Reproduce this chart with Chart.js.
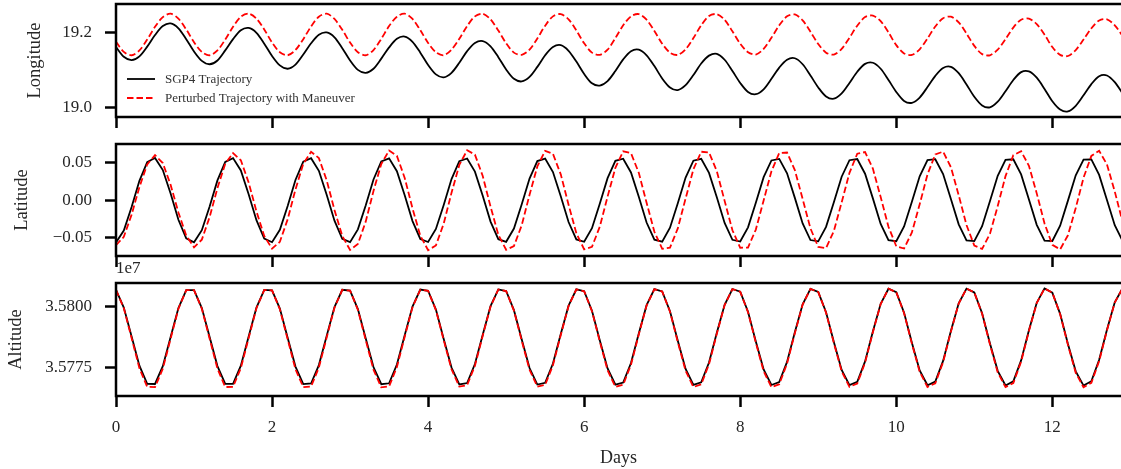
<!DOCTYPE html>
<html><head><meta charset="utf-8">
<script src="https://cdn.jsdelivr.net/npm/chart.js@4.4.0/dist/chart.umd.min.js"></script>
<style>
html,body{margin:0;padding:0;background:#fff;width:1121px;height:469px;overflow:hidden;}
canvas{position:absolute;left:0;}
</style></head><body>
<canvas id="c1" style="top:0px"></canvas>
<canvas id="c2" style="top:130px"></canvas>
<canvas id="c3" style="top:258px"></canvas>
<script>
// ---- data ----
const days = [0,0.1,0.2,0.3,0.4,0.5,0.6,0.7,0.8,0.9,1,1.1,1.2,1.3,1.4,1.5,1.6,1.7,1.8,1.9,2,2.1,2.2,2.3,2.4,2.5,2.6,2.7,2.8,2.9,3,3.1,3.2,3.3,3.4,3.5,3.6,3.7,3.8,3.9,4,4.1,4.2,4.3,4.4,4.5,4.6,4.7,4.8,4.9,5,5.1,5.2,5.3,5.4,5.5,5.6,5.7,5.8,5.9,6,6.1,6.2,6.3,6.4,6.5,6.6,6.7,6.8,6.9,7,7.1,7.2,7.3,7.4,7.5,7.6,7.7,7.8,7.9,8,8.1,8.2,8.3,8.4,8.5,8.6,8.7,8.8,8.9,9,9.1,9.2,9.3,9.4,9.5,9.6,9.7,9.8,9.9,10,10.1,10.2,10.3,10.4,10.5,10.6,10.7,10.8,10.9,11,11.1,11.2,11.3,11.4,11.5,11.6,11.7,11.8,11.9,12,12.1,12.2,12.3,12.4,12.5,12.6,12.7,12.8,12.9];

const lonSGP4 = [19.162,19.136,19.127,19.137,19.163,19.194,19.218,19.225,19.212,19.183,
19.150,19.125,19.116,19.126,19.153,19.183,19.207,19.213,19.200,19.171,
19.138,19.113,19.104,19.115,19.142,19.172,19.195,19.201,19.188,19.159,
19.126,19.101,19.093,19.104,19.131,19.161,19.184,19.190,19.176,19.147,
19.114,19.089,19.081,19.093,19.120,19.151,19.173,19.178,19.164,19.135,
19.102,19.077,19.070,19.082,19.109,19.140,19.162,19.167,19.152,19.123,
19.090,19.065,19.059,19.071,19.098,19.129,19.151,19.155,19.140,19.111,
19.078,19.054,19.047,19.060,19.087,19.118,19.139,19.144,19.128,19.098,
19.066,19.042,19.036,19.049,19.077,19.107,19.128,19.132,19.116,19.086,
19.054,19.030,19.024,19.038,19.066,19.096,19.117,19.120,19.104,19.074,
19.042,19.018,19.013,19.027,19.055,19.085,19.106,19.109,19.092,19.062,
19.029,19.006,19.001,19.016,19.044,19.074,19.095,19.097,19.080,19.050,
19.017,18.995,18.990,19.005,19.033,19.063,19.084,19.086,19.068,19.038];

const lonPerturbed = [19.176,19.149,19.140,19.153,19.182,19.216,19.242,19.251,19.238,19.209,
19.175,19.149,19.140,19.153,19.182,19.216,19.243,19.251,19.238,19.209,
19.174,19.148,19.140,19.154,19.183,19.217,19.243,19.251,19.237,19.208,
19.174,19.148,19.140,19.154,19.184,19.218,19.243,19.251,19.237,19.207,
19.173,19.148,19.140,19.155,19.184,19.218,19.244,19.251,19.236,19.206,
19.172,19.147,19.141,19.155,19.185,19.219,19.244,19.250,19.236,19.206,
19.172,19.147,19.141,19.155,19.186,19.220,19.244,19.250,19.235,19.205,
19.171,19.147,19.141,19.156,19.186,19.220,19.245,19.250,19.235,19.204,
19.171,19.148,19.142,19.157,19.187,19.220,19.244,19.249,19.233,19.203,
19.170,19.147,19.142,19.157,19.187,19.219,19.242,19.246,19.231,19.201,
19.167,19.145,19.141,19.156,19.185,19.217,19.239,19.243,19.228,19.198,
19.165,19.143,19.140,19.155,19.183,19.214,19.235,19.238,19.223,19.195,
19.162,19.141,19.138,19.154,19.182,19.212,19.233,19.236,19.220,19.192];

const latSGP4 = [-0.0564,-0.0405,-0.0091,0.0258,0.0508,0.0563,0.0402,0.0088,-0.0261,-0.0509,
-0.0562,-0.0400,-0.0084,0.0264,0.0510,0.0561,0.0397,0.0080,-0.0267,-0.0512,
-0.0560,-0.0394,-0.0077,0.0270,0.0513,0.0560,0.0392,0.0073,-0.0273,-0.0515,
-0.0559,-0.0389,-0.0070,0.0276,0.0516,0.0558,0.0386,0.0066,-0.0279,-0.0517,
-0.0557,-0.0383,-0.0063,0.0282,0.0519,0.0556,0.0381,0.0059,-0.0285,-0.0520,
-0.0555,-0.0378,-0.0055,0.0288,0.0521,0.0555,0.0375,0.0052,-0.0291,-0.0523,
-0.0554,-0.0373,-0.0048,0.0294,0.0524,0.0553,0.0370,0.0045,-0.0298,-0.0526,
-0.0552,-0.0367,-0.0041,0.0301,0.0527,0.0551,0.0364,0.0038,-0.0304,-0.0528,
-0.0551,-0.0362,-0.0034,0.0307,0.0530,0.0550,0.0359,0.0031,-0.0310,-0.0531,
-0.0549,-0.0356,-0.0027,0.0313,0.0533,0.0548,0.0353,0.0024,-0.0316,-0.0534,
-0.0547,-0.0351,-0.0020,0.0319,0.0535,0.0546,0.0348,0.0016,-0.0322,-0.0537,
-0.0546,-0.0346,-0.0013,0.0325,0.0538,0.0545,0.0343,0.0009,-0.0328,-0.0539,
-0.0544,-0.0340,-0.0006,0.0331,0.0541,0.0543,0.0337,0.0002,-0.0334,-0.0542];

const latPerturbed = [-0.0600,-0.0489,-0.0193,0.0175,0.0478,0.0600,0.0495,0.0204,-0.0164,-0.0471,
-0.0628,-0.0526,-0.0225,0.0161,0.0486,0.0627,0.0532,0.0236,-0.0149,-0.0478,
-0.0646,-0.0555,-0.0255,0.0142,0.0485,0.0645,0.0561,0.0266,-0.0130,-0.0477,
-0.0664,-0.0585,-0.0286,0.0122,0.0483,0.0662,0.0591,0.0297,-0.0109,-0.0474,
-0.0667,-0.0603,-0.0311,0.0098,0.0470,0.0665,0.0608,0.0322,-0.0085,-0.0461,
-0.0661,-0.0612,-0.0333,0.0072,0.0450,0.0658,0.0618,0.0344,-0.0060,-0.0441,
-0.0655,-0.0622,-0.0354,0.0047,0.0431,0.0652,0.0627,0.0365,-0.0034,-0.0421,
-0.0649,-0.0632,-0.0376,0.0022,0.0411,0.0646,0.0636,0.0387,-0.0009,-0.0401,
-0.0634,-0.0632,-0.0392,-0.0004,0.0386,0.0630,0.0636,0.0402,0.0016,-0.0376,
-0.0624,-0.0638,-0.0411,-0.0029,0.0364,0.0620,0.0641,0.0421,0.0041,-0.0354,
-0.0615,-0.0644,-0.0430,-0.0054,0.0343,0.0610,0.0647,0.0440,0.0066,-0.0332,
-0.0605,-0.0650,-0.0449,-0.0079,0.0321,0.0600,0.0652,0.0458,0.0091,-0.0310,
-0.0596,-0.0656,-0.0468,-0.0104,0.0300,0.0590,0.0658,0.0477,0.0116,-0.0289];

const altSGP4 = [35806830,35799560,35787650,35775650,35768190,35768110,35775450,35787390,35799350,35806750,
35806740,35799350,35787390,35775460,35768130,35768200,35775660,35787640,35799540,35806810,
35806640,35799130,35787140,35775260,35768060,35768300,35775880,35787900,35799740,35806870,
35806550,35798910,35786880,35775070,35768000,35768390,35776090,35788150,35799930,35806930,
35806450,35798700,35786630,35774870,35767940,35768490,35776310,35788400,35800130,35807000,
35806360,35798480,35786370,35774670,35767880,35768590,35776530,35788660,35800320,35807060,
35806270,35798270,35786120,35774480,35767820,35768680,35776740,35788910,35800520,35807120,
35806170,35798050,35785870,35774280,35767750,35768780,35776960,35789170,35800710,35807180,
35806080,35797840,35785610,35774090,35767690,35768870,35777180,35789420,35800910,35807240,
35805990,35797620,35785360,35773890,35767630,35768970,35777390,35789670,35801100,35807300,
35805890,35797400,35785100,35773700,35767570,35769060,35777610,35789930,35801300,35807360,
35805800,35797190,35784850,35773500,35767510,35769160,35777820,35790180,35801490,35807420,
35805700,35796970,35784590,35773300,35767440,35769250,35778040,35790440,35801690,35807480];

const altPerturbed = [35806800,35799300,35787010,35774620,35766920,35766840,35774420,35786740,35799080,35806720,
35806710,35799080,35786740,35774430,35766860,35766930,35774630,35787000,35799280,35806780,
35806610,35798850,35786480,35774220,35766790,35767040,35774860,35787260,35799480,35806840,
35806510,35798630,35786210,35774020,35766730,35767130,35775080,35787520,35799680,35806900,
35806420,35798500,35786160,35774140,35767060,35767620,35775610,35787970,35799960,35806980,
35806330,35798280,35785900,35773940,35767000,35767720,35775840,35788240,35800160,35807050,
35806240,35798060,35785640,35773740,35766940,35767810,35776050,35788490,35800360,35807110,
35806140,35797840,35785390,35773540,35766860,35767920,35776280,35788760,35800550,35807170,
35806040,35797620,35785120,35773340,35766800,35768010,35776500,35789010,35800760,35807230,
35805960,35797450,35784970,35773310,35766940,35768300,35776870,35789360,35800990,35807290,
35805860,35797220,35784710,35773110,35766880,35768390,35777090,35789620,35801190,35807350,
35805770,35797010,35784460,35772910,35766820,35768500,35777300,35789880,35801380,35807410,
35805670,35796780,35784190,35772710,35766750,35768590,35777530,35790140,35801590,35807480];

const seriesNames = ['SGP4 Trajectory', 'Perturbed Trajectory with Maneuver'];
const xTickValues = [0, 2, 4, 6, 8, 10, 12];
const xTickLabels = ['0', '2', '4', '6', '8', '10', '12'];
const lonTickValues = [19.0, 19.2];
const lonTickLabels = ['19.0', '19.2'];
const latTickValues = [-0.05, 0, 0.05];
const latTickLabels = ['\u22120.05', '0.00', '0.05'];
const altTickValues = [35775000, 35800000];
const altTickLabels = ['3.5775', '3.5800'];
const altOffsetText = '1e7';

// ---- rendering ----
const FONT = "'Liberation Serif', 'Times New Roman', serif";
const TEXT = '#262626';
Chart.defaults.font.family = FONT;
Chart.defaults.color = TEXT;

const W = 1121;
const framePlugin = {
  id: 'frame',
  afterDatasetsDraw(chart) {
    const {ctx, chartArea: a} = chart;
    ctx.save();
    ctx.strokeStyle = '#000';
    ctx.lineWidth = 2.5;
    ctx.lineCap = 'butt';
    ctx.beginPath();
    ctx.moveTo(a.right + 2, a.top);
    ctx.lineTo(a.left, a.top);
    ctx.lineTo(a.left, a.bottom);
    ctx.lineTo(a.right + 2, a.bottom);
    ctx.stroke();
    ctx.restore();
  }
};

const legendPlugin = {
  id: 'innerLegend',
  afterDraw(chart) {
    const ctx = chart.ctx;
    const rows = [79, 98];
    ctx.save();
    chart.data.datasets.forEach((ds, i) => {
      const y = rows[i];
      ctx.beginPath();
      ctx.strokeStyle = ds.borderColor;
      ctx.lineWidth = ds.borderWidth;
      ctx.setLineDash(ds.borderDash || []);
      ctx.moveTo(127, y);
      ctx.lineTo(155, y);
      ctx.stroke();
      ctx.setLineDash([]);
      ctx.fillStyle = '#333';
      ctx.font = '13px ' + FONT;
      ctx.textBaseline = 'middle';
      ctx.textAlign = 'left';
      ctx.fillText(seriesNames[i], 165, y + 1);
    });
    ctx.restore();
  }
};

const offsetPlugin = {
  id: 'offsetText',
  afterDraw(chart) {
    const ctx = chart.ctx;
    ctx.save();
    ctx.fillStyle = TEXT;
    ctx.font = '17px ' + FONT;
    ctx.textBaseline = 'middle';
    ctx.textAlign = 'left';
    ctx.fillText(altOffsetText, 116, 11);
    ctx.restore();
  }
};

function pts(arr) { return days.map((d, i) => ({x: d, y: arr[i]})); }

function makeChart(id, h, top, bottom, cfg) {
  const cv = document.getElementById(id);
  cv.width = W; cv.height = h;
  cv.style.width = W + 'px'; cv.style.height = h + 'px';
  return new Chart(cv, {
    type: 'line',
    data: {
      datasets: [
        {label: seriesNames[0], data: pts(cfg.a), borderColor: '#000', borderWidth: 1.8,
         pointRadius: 0, tension: cfg.tension, order: 2},
        {label: seriesNames[1], data: pts(cfg.b), borderColor: '#ff0000', borderWidth: 1.8,
         borderDash: [6.5, 3], pointRadius: 0, tension: cfg.tension, order: 1}
      ]
    },
    options: {
      responsive: false, animation: false, events: [],
      layout: {padding: {top: top, left: 0, right: 0, bottom: 0}},
      plugins: {legend: {display: false}, tooltip: {enabled: false}},
      scales: {
        x: {
          type: 'linear', min: 0, max: 12.88,
          afterFit(s) { s.height = h - bottom; s.paddingLeft = 0; s.paddingRight = 0; s.paddingTop = 0; s.paddingBottom = 0; },
          afterBuildTicks(s) { s.ticks = xTickValues.map(v => ({value: v})); },
          ticks: {
            autoSkip: false, maxRotation: 0, padding: 10,
            color: cfg.xLabels ? TEXT : 'rgba(0,0,0,0)',
            font: {size: 17},
            callback: (v, i) => xTickLabels[i]
          },
          grid: {drawOnChartArea: false, drawTicks: true, tickLength: 11, tickWidth: 2.5, tickColor: '#000'},
          border: {display: false},
          title: cfg.xLabels ? {display: true, text: 'Days', font: {size: 18}, color: TEXT, padding: {top: 0, bottom: 0}} : {display: false}
        },
        y: {
          type: 'linear', min: cfg.min, max: cfg.max,
          afterFit(s) { s.width = 116; s.paddingTop = 0; s.paddingBottom = 0; s.paddingLeft = 0; s.paddingRight = 0; },
          afterBuildTicks(s) { s.ticks = cfg.tv.map(v => ({value: v})); },
          ticks: {autoSkip: false, padding: 13, font: {size: 17}, color: TEXT,
                  callback: (v, i) => cfg.tl[i]},
          grid: {drawOnChartArea: false, drawTicks: true, tickLength: 11, tickWidth: 2.5, tickColor: '#000'},
          border: {display: false},
          title: {display: true, text: cfg.title, font: {size: 18.5}, color: TEXT,
                  padding: {top: cfg.tpad, bottom: 0}}
        }
      }
    },
    plugins: cfg.plugins
  });
}

makeChart('c1', 130, 4, 117, {a: lonSGP4, b: lonPerturbed, min: 18.975, max: 19.277,
  tv: lonTickValues, tl: lonTickLabels, title: 'Longitude', tpad: 24, xLabels: false, tension: 0.3,
  plugins: [framePlugin, legendPlugin]});
makeChart('c2', 140, 14, 126, {a: latSGP4, b: latPerturbed, min: -0.0744, max: 0.0749,
  tv: latTickValues, tl: latTickLabels, title: 'Latitude', tpad: 10.7, xLabels: false, tension: 0,
  plugins: [framePlugin]});
makeChart('c3', 211, 25, 138, {a: altSGP4, b: altPerturbed, min: 35763160, max: 35809650,
  tv: altTickValues, tl: altTickLabels, title: 'Altitude', tpad: 4.7, xLabels: true, tension: 0,
  plugins: [framePlugin, offsetPlugin]});
</script>
</body></html>
